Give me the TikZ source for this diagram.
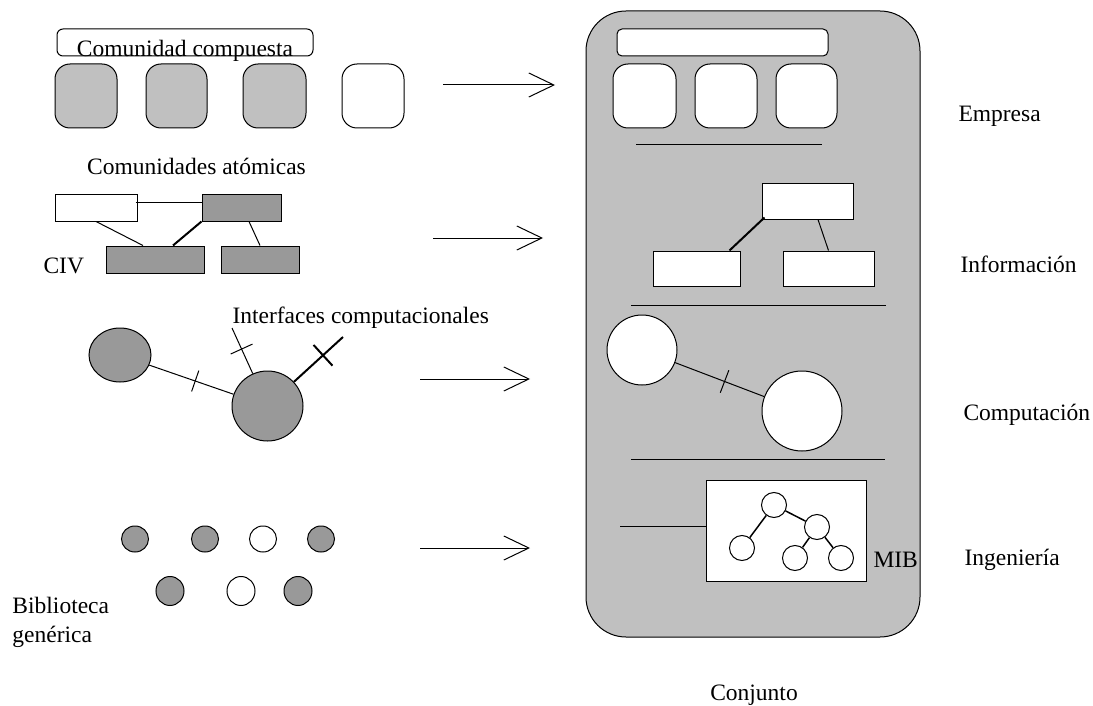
\documentclass[tikz,border=0pt]{standalone}
\usepackage{fontspec}
\setmainfont{Liberation Serif}
\usetikzlibrary{arrows.meta,calc,shapes.geometric}
\definecolor{lgray}{HTML}{C0C0C0}
\definecolor{dgray}{HTML}{999999}
\begin{document}
\begin{tikzpicture}[x=1pt,y=-1pt, line width=1pt,
  lbl/.style={font=\fontsize{23.5}{28}\selectfont, inner sep=0pt, anchor=base west},
  shapebox/.style={draw, inner sep=0pt, line width=1pt},
  rsq/.style={shapebox, rectangle, rounded corners=15pt},
  bar/.style={shapebox, rectangle, rounded corners=6pt, fill=white},
  rbox/.style={shapebox, rectangle},
  blob/.style={shapebox, ellipse},
  conn/.style={line width=1pt},
  thickconn/.style={line width=2pt},
  tickln/.style={line width=1pt},
  flow/.style={line width=1pt, -{Straight Barb[length=25pt,width=24pt]}}
]
\useasboundingbox (0,0) rectangle (1093,706);

% ---------- left: Comunidad compuesta ----------
\node[bar, minimum width=256pt, minimum height=27pt] (cc) at (185,42.5) {};
\node[lbl, anchor=base] (cctext) at (185,57) {Comunidad compuesta};
\node[rsq, fill=lgray, minimum width=62pt, minimum height=64pt] (sq1) at (86,96) {};
\node[rsq, fill=lgray, minimum width=61pt, minimum height=64pt] (sq2) at (176.5,96) {};
\node[rsq, fill=lgray, minimum width=63pt, minimum height=64pt] (sq3) at (274.5,96) {};
\node[rsq, fill=white, minimum width=62pt, minimum height=64pt] (sq4) at (373,96) {};

% ---------- left: Comunidades atomicas ----------
\node[lbl, anchor=base] (catext) at (196.5,175) {Comunidades atómicas};
\node[rbox, fill=white, minimum width=82pt, minimum height=26pt] (w1) at (96,208) {};
\node[rbox, fill=dgray, minimum width=79pt, minimum height=26pt] (g1) at (241.5,208) {};
\node[rbox, fill=dgray, minimum width=98pt, minimum height=27pt] (g2) at (155,259.5) {};
\node[rbox, fill=dgray, minimum width=78pt, minimum height=27pt] (g3) at (260,259.5) {};
\draw[conn] ([xshift=-2pt,yshift=5pt]w1.east) -- ([yshift=5pt]g1.west);
\draw[conn] (w1.south) -- ([xshift=-12pt]g2.north);
\draw[thickconn] (g1.south west) -- ([xshift=18pt]g2.north);
\draw[conn] ([xshift=7.5pt]g1.south) -- (g3.north);
\node[lbl] (civ) at (43,273) {CIV};

% ---------- left: computational ----------
\node[blob, fill=dgray, minimum width=62pt, minimum height=54pt] (e1) at (120,355) {};
\node[blob, fill=dgray, minimum width=71pt, minimum height=70pt] (e2) at (267.5,406) {};
\coordinate (i1) at (232,328);
\coordinate (i2) at (343,337);
\draw[conn] (e1) -- (e2);
\draw[conn] (e2) -- (i1);
\draw[thickconn] (e2) -- (i2);
\coordinate (k1) at ($(e1)!0.51!(e2)$);
\draw[tickln] ($(k1)!11pt!90:(e2)$) -- ($(k1)!11pt!-90:(e2)$);
\coordinate (k2) at ($(e2)!0.73!(i1)$);
\draw[tickln] ($(k2)!12pt!90:(i1)$) -- ($(k2)!12pt!-90:(i1)$);
\coordinate (k3) at ($(e2)!0.735!(i2)$);
\draw[thickconn] ($(k3)!14pt!90:(i2)$) -- ($(k3)!14pt!-90:(i2)$);
\node[lbl] (iftext) at (232,323) {Interfaces computacionales};

% ---------- left: library ----------
\node[blob, fill=dgray, minimum width=27pt, minimum height=26pt] (b1) at (135,539) {};
\node[blob, fill=dgray, minimum width=27pt, minimum height=26pt] (b2) at (205,539) {};
\node[blob, fill=white, minimum width=27pt, minimum height=26pt] (b3) at (263,539) {};
\node[blob, fill=dgray, minimum width=27pt, minimum height=26pt] (b4) at (321,539) {};
\node[blob, fill=dgray, minimum width=28pt, minimum height=29pt] (b5) at (170,591) {};
\node[blob, fill=white, minimum width=28pt, minimum height=29pt] (b6) at (241,591) {};
\node[blob, fill=dgray, minimum width=28pt, minimum height=29pt] (b7) at (298,591) {};
\node[lbl] (bib1) at (12,613) {Biblioteca};
\node[lbl] (bib2) at (12,642) {genérica};

% ---------- arrows ----------
\coordinate (a1s) at (443,85);  \coordinate (a1e) at (555,85);
\coordinate (a2s) at (433,238); \coordinate (a2e) at (543,238);
\coordinate (a3s) at (420,379); \coordinate (a3e) at (530,379);
\coordinate (a4s) at (420,548); \coordinate (a4e) at (530,548);
\draw[flow] (a1s) -- (a1e);
\draw[flow] (a2s) -- (a2e);
\draw[flow] (a3s) -- (a3e);
\draw[flow] (a4s) -- (a4e);

% ---------- right panel ----------
\node[shapebox, rectangle, rounded corners=40pt, fill=lgray, minimum width=334pt, minimum height=626pt] (panel) at (753,324) {};
\node[shapebox, rectangle, rounded corners=5pt, fill=white, minimum width=211pt, minimum height=27pt] (pbar) at (722.5,42.5) {};
\node[rsq, fill=white, minimum width=63pt, minimum height=64pt] (p1) at (644.5,96) {};
\node[rsq, fill=white, minimum width=62pt, minimum height=64pt] (p2) at (726,96) {};
\node[rsq, fill=white, minimum width=61pt, minimum height=64pt] (p3) at (806.5,96) {};
\coordinate (s1a) at (636,145); \coordinate (s1b) at (822,145);
\draw[conn] (s1a) -- (s1b);

\node[rbox, fill=white, minimum width=91pt, minimum height=35pt] (it) at (807.5,201.5) {};
\node[rbox, fill=white, minimum width=87pt, minimum height=35pt] (ibl) at (696.5,268.5) {};
\node[rbox, fill=white, minimum width=91pt, minimum height=35pt] (ibr) at (828.5,268.5) {};
\draw[thickconn] ([xshift=3pt,yshift=2pt]it.south west) -- ([xshift=-11pt]ibl.north east);
\draw[conn] ([xshift=10.5pt]it.south) -- (ibr.north);
\coordinate (s2a) at (631,305); \coordinate (s2b) at (886,305);
\draw[conn] (s2a) -- (s2b);

\node[blob, fill=white, minimum width=70pt, minimum height=70pt] (c1) at (642,350) {};
\node[blob, fill=white, minimum width=80pt, minimum height=80pt] (c2) at (802,411) {};
\draw[conn] (c1) -- (c2);
\coordinate (k4) at ($(c1)!0.516!(c2)$);
\draw[tickln] ($(k4)!12pt!90:(c2)$) -- ($(k4)!12pt!-90:(c2)$);
\coordinate (s3a) at (631,459); \coordinate (s3b) at (885,459);
\draw[conn] (s3a) -- (s3b);

\node[rbox, fill=white, minimum width=160pt, minimum height=101pt] (mib) at (786,530.5) {};
\coordinate (mibl) at (620,526);
\draw[conn] (mibl) -- ([yshift=4.5pt]mib.west);
\node[blob, fill=white, minimum width=25pt, minimum height=25pt] (n1) at (774,505) {};
\node[blob, fill=white, minimum width=25pt, minimum height=25pt] (n2) at (817,527) {};
\node[blob, fill=white, minimum width=25pt, minimum height=25pt] (n3) at (742,548) {};
\node[blob, fill=white, minimum width=25pt, minimum height=25pt] (n4) at (795,558) {};
\node[blob, fill=white, minimum width=25pt, minimum height=25pt] (n5) at (841,558) {};
\draw[thickconn, line width=1.5pt] (n1) -- (n3);
\draw[thickconn, line width=1.5pt] (n1) -- (n2);
\draw[thickconn, line width=1.5pt] (n2) -- (n4);
\draw[thickconn, line width=1.5pt] (n2) -- (n5);
\node[lbl] (mibtext) at (873,567) {MIB};

% ---------- right labels ----------
\node[lbl] (emp) at (958,122) {Empresa};
\node[lbl] (inf) at (960,272) {Información};
\node[lbl] (comp) at (963,420) {Computación};
\node[lbl] (ing) at (964,565) {Ingeniería};
\node[lbl, anchor=base] (conj) at (754,700) {Conjunto};
\end{tikzpicture}
\end{document}
